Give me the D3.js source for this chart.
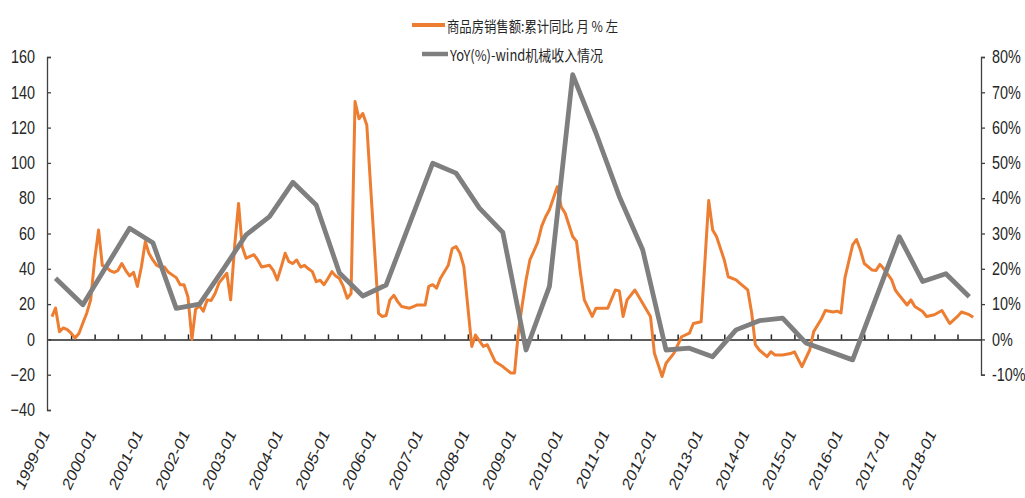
<!DOCTYPE html>
<html><head><meta charset="utf-8">
<script src="https://cdn.jsdelivr.net/npm/d3@7"></script>
<style>html,body{margin:0;padding:0;background:#fff;} svg{display:block}</style>
</head><body>
<svg id="c" width="1025" height="498"></svg>
<script>
const orangeDates = ["1999-02","1999-03","1999-04","1999-05","1999-06","1999-07","1999-08","1999-09","1999-10","1999-11","1999-12",
"2000-01","2000-02","2000-03","2000-04","2000-05","2000-06","2000-07","2000-08","2000-09","2000-10","2000-11","2000-12",
"2001-01","2001-02","2001-03","2001-04","2001-05","2001-06","2001-07","2001-08","2001-10","2001-11","2001-12",
"2002-01","2002-02","2002-03","2002-04","2002-05","2002-06","2002-07","2002-08","2002-09","2002-11","2002-12",
"2003-01","2003-02","2003-03","2003-04","2003-06","2003-07","2003-08","2003-10","2003-11","2003-12",
"2004-01","2004-02","2004-03","2004-04","2004-05","2004-06","2004-07","2004-08","2004-09","2004-10","2004-11","2004-12",
"2005-01","2005-02","2005-03","2005-04","2005-05","2005-06","2005-07","2005-08","2005-09","2005-10","2005-11",
"2006-02","2006-03","2006-04","2006-05","2006-06","2006-07","2006-08","2006-10","2006-11","2006-12",
"2007-02","2007-03","2007-04","2007-05","2007-06","2007-08","2007-09","2007-10","2007-11","2007-12",
"2008-02","2008-03","2008-05","2008-06","2008-08","2008-10","2008-12",
"2009-01","2009-02","2009-03","2009-04","2009-05","2009-06","2009-07","2009-08","2009-09","2009-10","2009-11","2009-12",
"2010-01","2010-02","2010-04","2010-05","2010-06","2010-07","2010-09","2010-10",
"2011-01","2011-03","2011-04","2011-05","2011-06","2011-08","2011-10","2011-12",
"2012-01","2012-03","2012-04","2012-06","2012-08","2012-10","2012-11",
"2013-01","2013-03","2013-04","2013-05","2013-07","2013-08","2013-10","2013-11",
"2014-01","2014-02","2014-03","2014-04","2014-06","2014-07","2014-08","2014-10","2014-12",
"2015-01","2015-03","2015-05","2015-06","2015-08","2015-09","2015-11","2015-12",
"2016-01","2016-02","2016-04","2016-05","2016-06","2016-07","2016-09","2016-10","2016-11","2016-12",
"2017-02","2017-03","2017-04","2017-06","2017-07","2017-08","2017-10","2017-11",
"2018-01","2018-03","2018-05","2018-07","2018-08","2018-10","2018-11"];
const orangeValues = [12.9,17.8,4.4,6.5,5.5,3.5,0.8,3.5,9.3,15,22.4,
45,62,42,41,39,38,39,43,39,36,38,30,
41,55.4,48.8,45,42,41,41,38,35,31,31,
24,0,17,19,16,22.4,22,26,32,37.5,22.4,
52.6,77,52.6,46,48,45,41,42,39,33.7,
41,48.8,44,43,45,41,42,40,38.4,32.7,33.5,31,
34.5,38.4,36,34.5,30,23.3,26,134.8,125,128,121.5,
14.8,13,13.5,22.4,25,21.4,18.6,17.7,18.6,19.5,
19.5,30,31,29,34.7,42,51.5,52.6,48.8,41.2,
-4,2.5,-4,-3,-12.5,-15.4,-19,
-19,5,19,33.7,45,50,55,64,69.5,73.4,80,86.5,
75.2,71.5,58.3,55.5,37.5,22.4,13,17.7,
17.7,28,27.5,13,22.4,28,20.5,13,
-7.9,-21,-13.5,-7.9,1.5,3.5,9,
10,78.7,62,58.3,45,35.5,33.7,31.8,
28,14.8,-3,-6,-9.8,-7,-8.8,-8.8,-8,
-7,-15.4,-6,4.4,11.7,16.4,15.5,16,
15,35,53.5,56.6,50.6,43,39.3,39,42.5,40,
33.7,28,25,19.5,22.4,18.6,15.8,13,
14,16.4,9,13,15.5,14,12.5];

const grayDates = ["1999-03","1999-10","2000-10","2001-04","2001-10","2002-04","2002-10","2003-04","2003-10",
"2004-04","2004-10","2005-04","2005-10","2006-04","2007-04","2007-10","2008-04","2008-10","2009-04","2009-10",
"2010-04","2010-10","2011-04","2011-10","2012-04","2012-10","2013-04","2013-10","2014-04","2014-10","2015-04",
"2016-04","2017-04","2017-10","2018-04","2018-10"];
const grayValues = [17.3,9.8,31.5,27.4,8.8,10,19.7,29.6,34.8,
44.5,38.1,18.8,12.3,15.4,49.9,47.1,37.2,30.3,-3,15,
75,58.4,40.5,25.4,-3,-2.5,-4.9,2.7,5.3,6,-1,
-5.8,29.1,16.4,18.6,12.1];

const leftTicks = [-40,-20,0,20,40,60,80,100,120,140,160];
const rightTicks = [-10,0,10,20,30,40,50,60,70,80];
const xLabels = ["1999-01","2000-01","2001-01","2002-01","2003-01","2004-01","2005-01","2006-01","2007-01","2008-01",
"2009-01","2010-01","2011-01","2012-01","2013-01","2014-01","2015-01","2016-01","2017-01","2018-01"];
const seriesNames = ["商品房销售额:累计同比 月 % 左","YoY(%)-wind机械收入情况"];
const colors = ["#ED7D31","#7F7F7F"];

const parse = d3.timeParse("%Y-%m");
const svg = d3.select("#c");
const SX = 0.8;
const FONT = "'Liberation Sans', Arial, sans-serif";
const x = d3.scaleTime().domain([parse("1999-01"), parse("2019-01")]).range([48, 981]);
const yL = d3.scaleLinear().domain([-40,160]).range([410,57]);
const yR = d3.scaleLinear().domain([-10,80]).range([yL(-20), yL(160)]);

// left axis
const gL = svg.append("g").attr("transform","translate(47,0)")
  .call(d3.axisLeft(yL).tickValues(leftTicks).tickSize(-4).tickSizeOuter(-4).tickPadding(12));
gL.selectAll("text").attr("x", -12/SX).attr("transform", `scale(${SX},1)`)
  .style("font", `18px ${FONT}`).attr("fill","#262626");
gL.selectAll("path,line").attr("stroke","#404040").attr("stroke-width",1.3);

// right axis
const gR = svg.append("g").attr("transform","translate(981,0)")
  .call(d3.axisRight(yR).tickValues(rightTicks).tickSize(4).tickSizeOuter(4).tickPadding(7).tickFormat(d => d + "%"));
gR.selectAll("text").attr("x", 11/SX).attr("transform", `scale(${SX},1)`)
  .style("font", `18px ${FONT}`).attr("fill","#262626");
gR.selectAll("path,line").attr("stroke","#404040").attr("stroke-width",1.3);

// x axis at zero
const halfYears = d3.timeMonth.every(6).range(parse("1999-07"), parse("2019-01"));
const gX = svg.append("g").attr("transform", `translate(0,${yL(0)})`)
  .call(d3.axisBottom(x).tickValues(halfYears).tickSize(-5).tickSizeOuter(0).tickFormat(""));
gX.selectAll("path,line").attr("stroke","#262626").attr("stroke-width",1.5);

// x labels
svg.append("g").selectAll("text").data(xLabels).join("text")
  .attr("transform", d => `translate(${x(parse(d)) + 2},434) scale(${SX},1) rotate(-60)`)
  .attr("text-anchor","end").style("font", `18px ${FONT}`).attr("fill","#262626")
  .text(d => d);

// lines
const orangeData = orangeDates.map((d,i) => ({date: parse(d), v: orangeValues[i]}));
const grayData = grayDates.map((d,i) => ({date: parse(d), v: grayValues[i]}));
svg.append("path").datum(orangeData).attr("fill","none").attr("stroke",colors[0])
  .attr("stroke-width",3).attr("stroke-linejoin","round")
  .attr("d", d3.line().x(d => x(d.date)).y(d => yL(d.v)));
svg.append("path").datum(grayData).attr("fill","none").attr("stroke",colors[1])
  .attr("stroke-width",4.8).attr("stroke-linejoin","round")
  .attr("d", d3.line().x(d => x(d.date)).y(d => yR(d.v)));

// legend
const legY = [25, 54], legX1 = [412, 422], legX2 = [445, 448], legTX = [447, 450], legLen = [171, 153];
seriesNames.forEach((name, i) => {
  svg.append("line").attr("x1", legX1[i]).attr("x2", legX2[i]).attr("y1", legY[i]).attr("y2", legY[i])
    .attr("stroke", colors[i]).attr("stroke-width", i ? 4.5 : 4);
  svg.append("text").attr("x", legTX[i]).attr("y", legY[i]).attr("dominant-baseline","central")
    .attr("textLength", legLen[i]).attr("lengthAdjust","spacingAndGlyphs")
    .style("font", "15px 'Noto Sans CJK SC', sans-serif").attr("fill","#262626").text(name);
});
</script>
</body></html>
